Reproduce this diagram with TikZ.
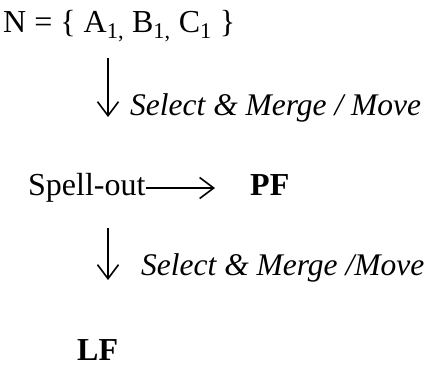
\documentclass[tikz,border=0pt]{standalone}
\usepackage{fontspec}
\setmainfont{Liberation Serif}
\usetikzlibrary{arrows.meta,positioning}

\tikzset{
  derivtext/.style={inner sep=0pt,font=\fontsize{32}{38}\selectfont},
  derivlabel/.style={derivtext,font=\fontsize{31.5}{38}\selectfont\itshape},
  derivform/.style={derivtext,font=\fontsize{32}{38}\selectfont\bfseries},
  derivarrow/.style={-{Straight Barb[length=14pt,width=21pt,line width=1.6pt]},line width=1.6pt}
}

\begin{document}
\begin{tikzpicture}[x=1pt,y=1pt]
  \useasboundingbox (0,0) rectangle (432,-367);
  % numeration
  \node[derivtext,anchor=base west] (numer) at (3,-32)
    {N = \{ A\textsubscript{1,} B\textsubscript{1,} C\textsubscript{1} \}};
  \coordinate (top1) at (108,-58);
  \coordinate (bot1) at (108,-117);
  \draw[derivarrow] (top1) -- (bot1);
  \node[derivlabel,anchor=base west] (step1) at (130,-115)
    {Select \& Merge / Move};
  % spell-out
  \node[derivtext,anchor=base west] (spell) at (28,-195) {Spell-out};
  \node[derivform,anchor=base west] (pf) at (250,-195) {PF};
  \draw[derivarrow] (spell.east |- 0,-188) -- (215,-188) coordinate (pfend);
  \coordinate (top2) at (108,-228);
  \coordinate (bot2) at (108,-280);
  \draw[derivarrow] (top2) -- (bot2);
  \node[derivlabel,anchor=base west] (step2) at (141,-275)
    {Select \& Merge /Move};
  % logical form
  \node[derivform,anchor=base west] (lf) at (77,-360) {LF};
\end{tikzpicture}
\end{document}
